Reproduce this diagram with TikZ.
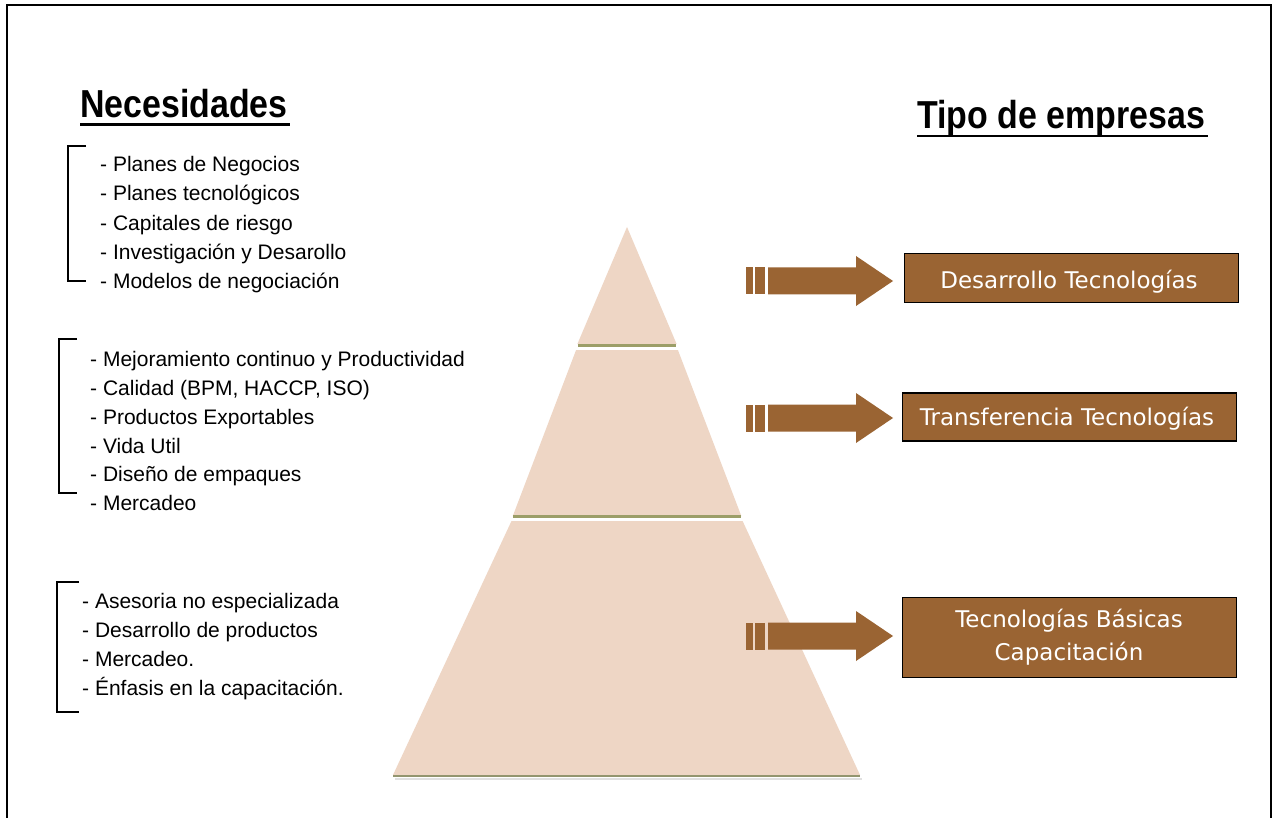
\documentclass[tikz,border=0pt]{standalone}
\usepackage{fontspec}
\setmainfont{Liberation Sans}
\newfontfamily\titlefont[FakeStretch=0.87]{Liberation Sans}
\newfontfamily\boxfont{DejaVu Sans}
\definecolor{brownbox}{HTML}{9A6433}
\definecolor{pyrfill}{HTML}{EED6C5}
\definecolor{olive}{HTML}{9C9E68}
\begin{document}
\begin{tikzpicture}[x=1pt,y=-1pt,
  heading/.style={font=\titlefont\bfseries\fontsize{39}{44}\selectfont, anchor=base west, inner sep=0pt},
  item/.style={font=\fontsize{21}{25}\selectfont, anchor=base west, inner sep=0pt},
  typebox/.style={draw=black, line width=1.8pt, fill=brownbox, inner sep=0pt},
  boxtext/.style={text=white, font=\boxfont\fontsize{23}{32.3}\selectfont, align=center,
    anchor=base, inner sep=0pt},
  bracket/.style={draw=black, line width=2pt},
  layer/.style={fill=pyrfill, draw=none},
  edge/.style={draw=olive, line width=3pt},
  blockarrow/.style={fill=brownbox, draw=none}]

\useasboundingbox (0,0) rectangle (1274,818);
\fill[white] (0,0) rectangle (1274,818);

% outer frame, open at the bottom
\draw[line width=2.5pt] (7,818) -- (7,5) -- (1271,5) -- (1271,818);

% headings
\node[heading] (hneeds) at (80,118) {Necesidades};
\draw[line width=2.5pt] (80,124.5) -- (290,124.5);
\node[heading] (htypes) at (917,129) {Tipo de empresas};
\draw[line width=2.5pt] (917,136) -- (1208,136);

% pyramid: three layers separated by olive edges
\coordinate (apex) at (627,227);
\fill[layer] (apex) -- (676.6,344) -- (577.4,344) -- cycle;
\draw[edge] (578,345) -- (676,345);
\fill[layer] (576.1,350) -- (677.9,350) -- (741.3,516) -- (512.8,516) -- cycle;
\draw[edge] (513,516) -- (741,516);
\fill[layer] (511.5,521) -- (742.6,521) -- (860,775) -- (393,775) -- cycle;
\draw[draw=olive!70!gray, line width=2pt] (393,776) -- (860,776);
\draw[draw=black!12, line width=2pt] (395,779) -- (862,779);

% block arrows toward the company types
\foreach \cy/\nm in {281/a1, 418/a2, 636/a3}{
  \fill[blockarrow] (746,\cy-13.5) rectangle (752.5,\cy+13.5);
  \fill[blockarrow] (755,\cy-13.5) rectangle (765,\cy+13.5);
  \fill[blockarrow] (768,\cy-13.5) -- (856,\cy-13.5) -- (856,\cy-25) -- (893,\cy)
     -- (856,\cy+25) -- (856,\cy+13.5) -- (768,\cy+13.5) -- cycle;
  \coordinate (\nm) at (893,\cy);
}

% company type boxes (text placed on its baseline)
\node[typebox, minimum width=334pt, minimum height=49pt] (b1) at (1071.5,278) {};
\node[boxtext] (t1) at (1069,288) {Desarrollo Tecnologías};
\node[typebox, minimum width=334pt, minimum height=48pt] (b2) at (1069.5,417) {};
\node[boxtext] (t2) at (1067,425) {Transferencia Tecnologías};
\node[typebox, minimum width=334pt, minimum height=80pt] (b3) at (1069.5,637.5) {};
\node[boxtext] (t3) at (1069,660) {Tecnologías Básicas\\Capacitación};

% needs, first group
\draw[bracket] (86,146) -- (68,146) -- (68,281) -- (86,281);
\node[item] (n11) at (100,172) {- Planes de Negocios};
\node[item] (n12) at (100,201) {- Planes tecnológicos};
\node[item] (n13) at (100,231) {- Capitales de riesgo};
\node[item] (n14) at (100,260) {- Investigación y Desarollo};
\node[item] (n15) at (100,289) {- Modelos de negociación};

% needs, second group
\draw[bracket] (77,339) -- (59,339) -- (59,493) -- (77,493);
\node[item] (n21) at (90,366) {- Mejoramiento continuo y Productividad};
\node[item] (n22) at (90,395) {- Calidad (BPM, HACCP, ISO)};
\node[item] (n23) at (90,424) {- Productos Exportables};
\node[item] (n24) at (90,453) {- Vida Util};
\node[item] (n25) at (90,481) {- Diseño de empaques};
\node[item] (n26) at (90,510) {- Mercadeo};

% needs, third group
\draw[bracket] (79,582) -- (57,582) -- (57,712) -- (79,712);
\node[item] (n31) at (82,608) {- Asesoria no especializada};
\node[item] (n32) at (82,637) {- Desarrollo de productos};
\node[item] (n33) at (82,666) {- Mercadeo.};
\node[item] (n34) at (82,695) {- Énfasis en la capacitación.};

\end{tikzpicture}
\end{document}
